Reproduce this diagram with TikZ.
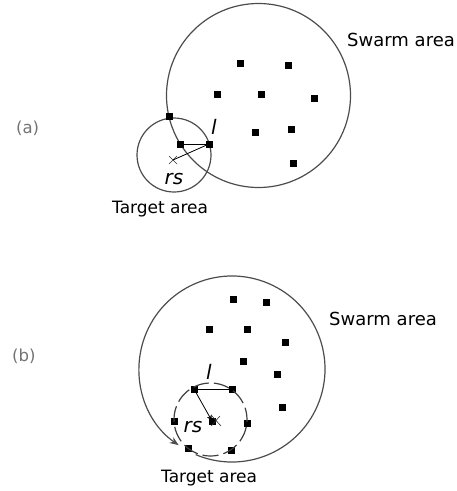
\documentclass[tikz,border=0pt]{standalone}
\usepackage{fontspec}
\setmainfont{DejaVu Sans}
\usetikzlibrary{arrows.meta,calc}
\tikzset{
  dot/.style={fill=black, inner sep=0pt, minimum size=7pt, rectangle},
  ring/.style={draw=black!70, line width=1.2pt},
  lbl/.style={font=\fontsize{18}{20}\selectfont, inner sep=0pt},
  lbls/.style={font=\fontsize{17}{19}\selectfont, inner sep=0pt},
  tag/.style={font=\fontsize{16.5}{18}\selectfont, text=black!55, inner sep=0pt},
  sym/.style={font=\fontsize{20}{22}\selectfont\itshape, inner sep=0pt},
  link/.style={draw=black, line width=0.8pt},
  xmark/.style={draw=black!80, line width=0.6pt}
}
\begin{document}
\begin{tikzpicture}[x=1pt,y=-1pt]
\useasboundingbox (0,0) rectangle (457,491);
% ---------- panel (a)
\node[ring, circle, minimum size=184pt, inner sep=0pt] (swA) at (258.5,95.5) {};
\node[ring, circle, minimum size=74pt, inner sep=0pt] (tgA) at (174,155) {};
\node[dot] (a1) at (240,63) {};
\node[dot] (a2) at (288,65) {};
\node[dot] (a3) at (217,94) {};
\node[dot] (a4) at (261,94) {};
\node[dot] (a5) at (314,98) {};
\node[dot] (a6) at (255,132) {};
\node[dot] (a7) at (291,129) {};
\node[dot] (a8) at (293,163) {};
\node[dot] (a9) at (169,116) {};
\node[dot] (a10) at (180,144) {};
\node[dot] (a11) at (209,144) {};
\coordinate (cA) at (173,160);
\draw[xmark] ($(cA)+(-4,-4)$) -- ($(cA)+(4,4)$) ($(cA)+(-4,4)$) -- ($(cA)+(4,-4)$);
\draw[link] (a10.center) -- (a11.center);
\draw[link] (cA) -- (a11.center);
\node[sym] (lA) at (214,127) {l};
\node[sym] (rsA) at (174,179) {rs};
\node[lbl, anchor=west] (swAt) at (347,40) {Swarm area};
\node[lbls, anchor=west] (tgAt) at (112,209) {Target area};
\node[tag, anchor=west] (tA) at (16,128) {(a)};
% ---------- panel (b)
\coordinate (cB0) at (232,369);
\draw[ring, -{Stealth[length=9pt,width=7pt]}] (cB0) ++(473:93) arc[start angle=473, end angle=125, radius=93];
\node[dot] (b1) at (233,299) {};
\node[dot] (b2) at (266,302) {};
\node[dot] (b3) at (209,329) {};
\node[dot] (b4) at (247,329) {};
\node[dot] (b5) at (285,342) {};
\node[dot] (b6) at (243,361) {};
\node[dot] (b7) at (277,374) {};
\node[dot] (b8) at (282,407) {};
\node[dot] (b9) at (194,389) {};
\node[dot] (b10) at (232,389) {};
\node[dot] (b11) at (174,421) {};
\node[dot] (b12) at (212,421) {};
\node[dot] (b13) at (247,423) {};
\node[dot] (b14) at (188,448) {};
\node[dot] (b15) at (231,450) {};
\node[draw=black!75, line width=1.2pt, circle, minimum size=73pt, inner sep=0pt, dash pattern=on 16pt off 5pt, dash phase=4pt] (tgB) at (210.5,419.5) {};
\draw[xmark] (211,415) -- (221,426) (211,426) -- (220,416);
\draw[link] (b9.center) -- (b10.center);
\draw[link, -{Stealth[length=6pt,width=5pt]}] (b9.center) -- (b12.center);
\node[sym] (lB) at (209,372) {l};
\node[sym] (rsB) at (193,427) {rs};
\node[lbl, anchor=west] (swBt) at (329,319) {Swarm area};
\node[lbls, anchor=west] (tgBt) at (161,478) {Target area};
\node[tag, anchor=west] (tB) at (12,356) {(b)};
\end{tikzpicture}
\end{document}
